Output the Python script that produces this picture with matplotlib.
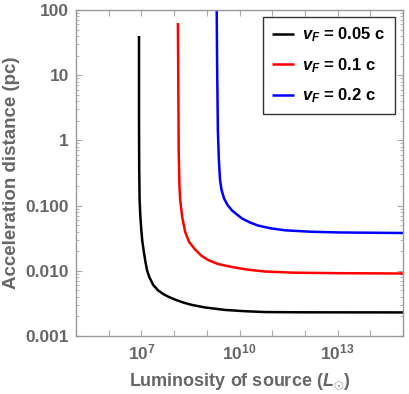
import matplotlib
matplotlib.use("Agg")
import matplotlib.pyplot as plt
from matplotlib.ticker import FixedLocator, FixedFormatter, NullLocator, LogLocator

plt.rcParams['font.family'] = ['Liberation Sans', 'DejaVu Sans']
plt.rcParams['mathtext.fontset'] = 'custom'
plt.rcParams['mathtext.rm'] = 'Liberation Sans:bold'
plt.rcParams['mathtext.bf'] = 'Liberation Sans:bold'
plt.rcParams['mathtext.it'] = 'Liberation Sans:bold:italic'

# Data (luminosity in L_sun, distance in pc)
black_L = [8.45e6, 8.45e6, 8.57e6, 8.81e6, 9.25e6, 9.93e6, 1.065e7, 1.167e7, 1.315e7, 1.482e7,
           1.741e7, 2.306e7, 3.27e7, 4.65e7, 6.61e7, 1.159e8, 2.03e8, 3.56e8, 8.87e8, 3.61e9,
           1.47e10, 5.99e10, 7.0e11, 1e15]
black_d = [39.9, 2.06, 0.352, 0.122, 0.0718, 0.0423, 0.0286, 0.0208, 0.0141, 0.01028,
           0.00803, 0.00605, 0.00499, 0.00441, 0.00401, 0.00356, 0.00323, 0.00299, 0.00274, 0.00251,
           0.00240, 0.00233, 0.00231, 0.00230]

red_L = [1.306e8, 1.343e8, 1.381e8, 1.452e8, 1.535e8, 1.766e8, 2.18e8, 2.88e8, 4.40e8, 6.70e8,
         1.096e9, 2.21e9, 5.91e9, 1.816e10, 5.99e10, 4.92e11, 1.16e13, 1e15]
red_d = [63.2, 8.44, 0.71, 0.207, 0.122, 0.0668, 0.0394, 0.0277, 0.0212, 0.01717,
         0.01465, 0.01271, 0.01143, 0.01040, 0.00975, 0.00935, 0.00919, 0.00909]

blue_L = [2.00e9, 2.06e9, 2.18e9, 2.34e9, 2.54e9, 2.83e9, 3.37e9, 4.31e9, 5.91e9, 8.39e9,
          1.192e10, 2.09e10, 3.66e10, 8.51e10, 2.44e11, 1.41e12, 1.16e13, 1e15]
blue_d = [142.0, 17.1, 1.44, 0.500, 0.247, 0.1734, 0.1285, 0.1021, 0.0841, 0.0730,
          0.0634, 0.0551, 0.0495, 0.0450, 0.0418, 0.0398, 0.0387, 0.0380]

series_labels = [r'$v_F$ = 0.05 c', r'$v_F$ = 0.1 c', r'$v_F$ = 0.2 c']
series_colors = ['black', '#ff0000', '#0000ff']

y_ticks = [0.001, 0.01, 0.1, 1, 10, 100]
y_ticklabels = ['0.001', '0.010', '0.100', '1', '10', '100']
x_ticks = [1e5, 1e6, 1e7, 1e8, 1e9, 1e10, 1e11, 1e12, 1e13, 1e14, 1e15]
x_ticklabels = ['', '', r'$\mathbf{10^{7}}$', '', '', r'$\mathbf{10^{10}}$', '', '', r'$\mathbf{10^{13}}$', '', '']

fig = plt.figure(figsize=(4.09, 3.94), dpi=100)
ax = fig.add_axes([76/409, 1-336/394, (403-76)/409, (336-10)/394])

for L, d, lab, c in zip([black_L, red_L, blue_L], [black_d, red_d, blue_d], series_labels, series_colors):
    ax.plot(L, d, color=c, lw=1.8, label=lab, solid_capstyle='butt', solid_joinstyle='round')

ax.set_xscale('log')
ax.set_yscale('log')
ax.set_xlim(1e5, 1e15)
ax.set_ylim(0.001, 100)

gray = '#666666'
ax.xaxis.set_major_locator(FixedLocator(x_ticks))
ax.xaxis.set_major_formatter(FixedFormatter(x_ticklabels))
ax.xaxis.set_minor_locator(NullLocator())
ax.yaxis.set_major_locator(FixedLocator(y_ticks))
ax.yaxis.set_major_formatter(FixedFormatter(y_ticklabels))
ax.yaxis.set_minor_locator(LogLocator(base=10, subs=range(2, 10)))

ax.tick_params(which='both', direction='in', top=True, right=True, color='#aaaaaa')
ax.tick_params(which='major', length=4, width=0.8, labelsize=12.5, labelcolor=gray, pad=5)
ax.tick_params(which='minor', length=2.5, width=0.6)
for lbl in ax.get_yticklabels():
    lbl.set_fontweight('bold')
for sp in ax.spines.values():
    sp.set_color('#999999')
    sp.set_linewidth(1.0)

ax.set_xlabel(r'Luminosity of source ($L_{\odot}$)', fontsize=13, fontweight='bold', color=gray, labelpad=6)
ax.set_ylabel('Acceleration distance (pc)', fontsize=13.5, fontweight='bold', color=gray, labelpad=4)

leg = ax.legend(loc='upper right', bbox_to_anchor=(0.985, 0.99),
                prop={'weight': 'bold', 'size': 12}, frameon=True, fancybox=False,
                edgecolor='#333333', framealpha=1, handlelength=1.3, handletextpad=0.5,
                labelspacing=0.7, borderpad=0.55, borderaxespad=0.2)
leg.get_frame().set_linewidth(1.0)

fig.savefig('out.png', dpi=100)
